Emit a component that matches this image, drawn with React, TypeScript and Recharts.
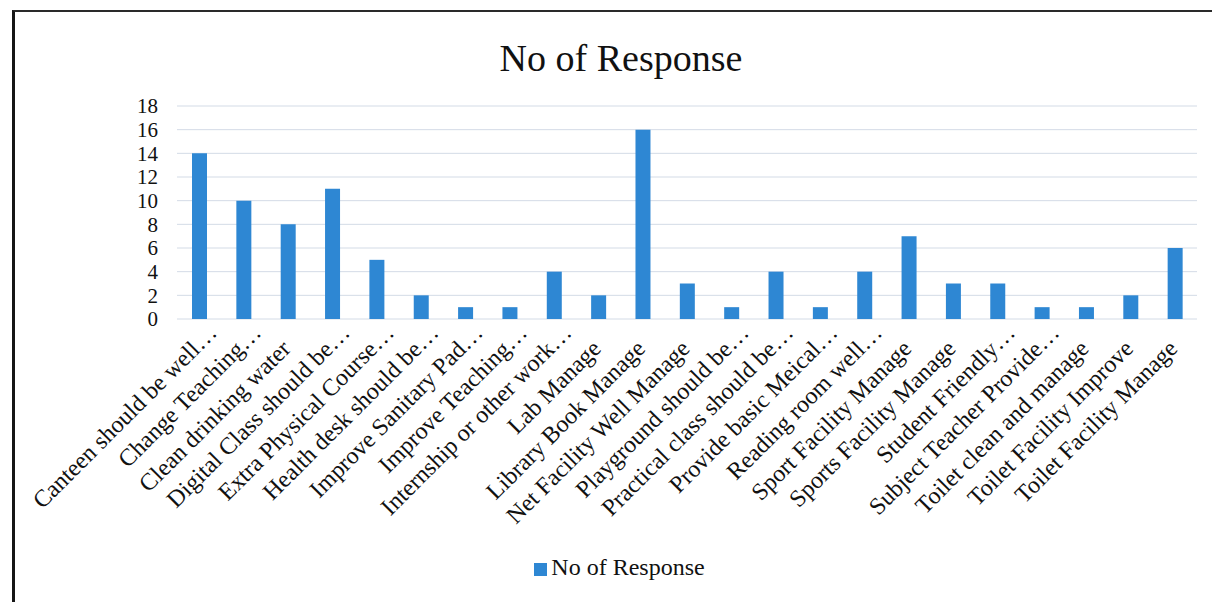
import { BarChart, Bar, XAxis, YAxis, CartesianGrid, Legend } from 'recharts';

const categories = [
  'Canteen should be well…',
  'Change Teaching…',
  'Clean drinking water',
  'Digital Class should be…',
  'Extra Physical Course…',
  'Health desk should be…',
  'Improve Sanitary Pad…',
  'Improve Teaching…',
  'Internship or other work…',
  'Lab Manage',
  'Library Book Manage',
  'Net Facility Well Manage',
  'Playground should be…',
  'Practical class should be…',
  'Provide basic Meical…',
  'Reading room well…',
  'Sport Facility Manage',
  'Sports Facility Manage',
  'Student Friendly…',
  'Subject Teacher Provide…',
  'Toilet clean and manage',
  'Toilet Facility Improve',
  'Toilet Facility Manage',
];

const responses = [14, 10, 8, 11, 5, 2, 1, 1, 4, 2, 16, 3, 1, 4, 1, 4, 7, 3, 3, 1, 1, 2, 6];

const yTicks = [0, 2, 4, 6, 8, 10, 12, 14, 16, 18];

const seriesName = 'No of Response';

const data = categories.map((name, i) => ({ name, value: responses[i] }));

const FONT = '"Liberation Serif", "Times New Roman", serif';

// labels cut with "…" sit a bit further up/right, like the original
const CategoryTick = (props: any) => {
  const { x, y, payload } = props;
  const label: string = payload.value;
  const cut = label.endsWith('…');
  const tx = x + (cut ? 19 : 4);
  const ty = y + (cut ? 15 : 31);
  return (
    <text
      x={tx}
      y={ty}
      transform={`rotate(-45 ${tx} ${ty})`}
      textAnchor="end"
      fontSize={24}
      fontFamily={FONT}
      fill="#111"
    >
      {label}
    </text>
  );
};

export default function App() {
  return (
    <div style={{ position: 'absolute', left: 0, top: 0, width: 1212, height: 602, overflow: 'hidden', background: '#fff', fontFamily: FONT }}>
      <div style={{ position: 'absolute', left: 12, top: 10, width: 1400, height: 800, borderLeft: '3px solid #161616', borderTop: '2px solid #2a2a2a' }} />
      <div style={{ position: 'absolute', left: 0, top: 37, width: 1242, textAlign: 'center', fontSize: 38, color: '#111', lineHeight: '42px' }}>
        No of Response
      </div>
      <BarChart width={1212} height={602} data={data} margin={{ top: 106, right: 15, left: 0, bottom: 0 }}>
        <CartesianGrid vertical={false} stroke="#d3dbe6" />
        <XAxis
          dataKey="name"
          interval={0}
          axisLine={false}
          tickLine={false}
          tickSize={0}
          tickMargin={0}
          height={233}
          tick={<CategoryTick />}
        />
        <YAxis
          width={177}
          domain={[0, 18]}
          ticks={yTicks}
          interval={0}
          axisLine={false}
          tickLine={false}
          tickSize={0}
          tickMargin={19}
          tick={{ fontSize: 21, fill: '#111', fontFamily: FONT }}
        />
        <Legend
          verticalAlign="bottom"
          iconType="square"
          iconSize={13}
          wrapperStyle={{ height: 50, paddingTop: 2, paddingLeft: 52, boxSizing: 'border-box', fontSize: 24, fontFamily: FONT }}
          formatter={(v) => <span style={{ color: '#111' }}>{v}</span>}
        />
        <Bar dataKey="value" name={seriesName} fill="#2e87d3" barSize={15} isAnimationActive={false} />
      </BarChart>
    </div>
  );
}
